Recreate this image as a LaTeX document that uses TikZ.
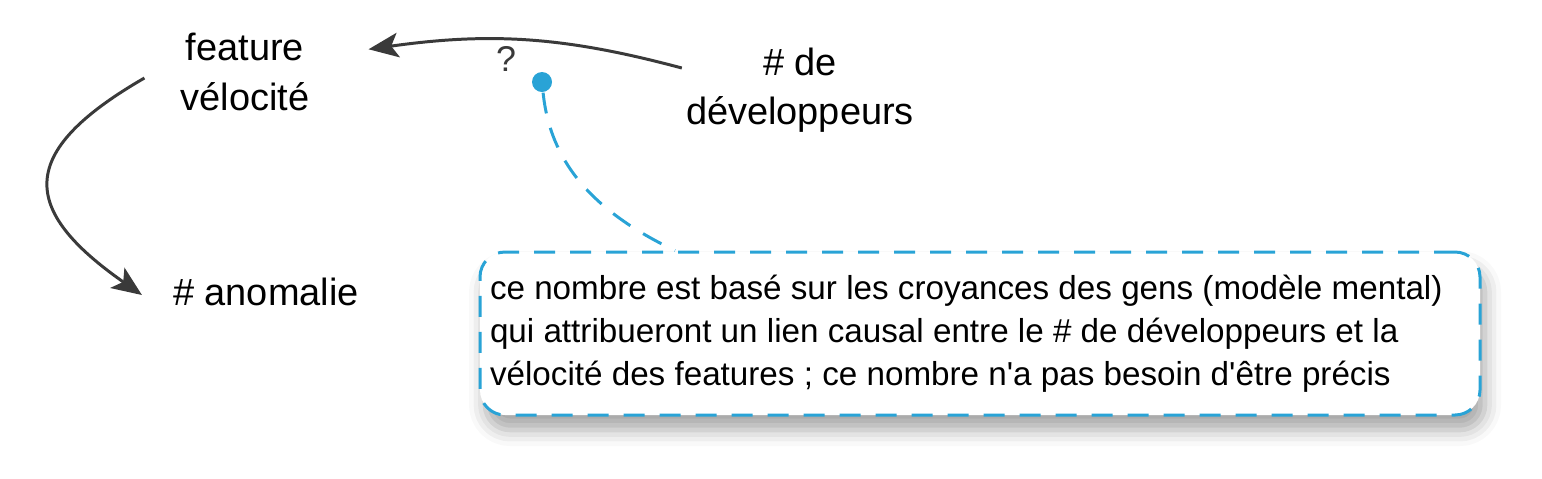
\documentclass[tikz,border=0pt]{standalone}
\usepackage{fontspec}
\setmainfont{Liberation Sans}
\usetikzlibrary{arrows.meta,shadows.blur}
\definecolor{notebl}{RGB}{41,163,214}
\definecolor{linegr}{RGB}{58,58,58}
\begin{document}
\begin{tikzpicture}[
		var/.style={align=center, inner sep=1pt, font=\fontsize{10.8}{14}\selectfont},
		link/.style={draw=linegr, line width=0.85pt, -{Stealth[length=8.5pt,width=7pt,inset=2pt]}},
		notedash/.style={draw=notebl, line width=0.85pt, dash pattern=on 2.1mm off 1.5mm},
		notebox/.style={notedash, rounded corners=2.5mm, fill=white, text width=9.8cm, inner xsep=0.1cm, minimum height=1.63cm, align=flush left, font=\fontsize{9.45}{12.2}\selectfont,
			blur shadow={shadow xshift=0.5mm, shadow yshift=-1.5mm, shadow blur radius=1.6mm, shadow opacity=35}}
	]
	\useasboundingbox (0,0) rectangle (15.42,-4.78);
	\node[var] (feat) at (2.45,-0.72) {feature\\vélocité};
	\node[var] (dev) at (8.0,-0.9) {\# de\\développeurs};
	\node[var] (anom) at (2.66,-2.92) {\# anomalie};
	\node[text=linegr, inner sep=0pt, font=\fontsize{10.2}{12}\selectfont] (q) at (5.06,-0.59) {?};
	\node[circle, fill=notebl, minimum size=2mm, inner sep=0pt] (pin) at (5.42,-0.82) {};
	\node[notebox] (note) at (9.8,-3.335) {ce nombre est basé sur les croyances des gens (modèle mental)\\qui attribueront un lien causal entre le \# de développeurs et la\\vélocité des features ; ce nombre n\textquotesingle a pas besoin d\textquotesingle être précis};
	\draw[link] ([yshift=2.2mm]dev.west) to[out=165,in=8] ([xshift=5.5mm,yshift=-2mm]feat.north east);
	\draw[link] ([xshift=-3.2mm,yshift=-0.6mm]feat.west) to[out=210,in=145,looseness=1.75] ([xshift=-2.7mm,yshift=-0.3mm]anom.west);
	\draw[notedash] (pin) .. controls (5.5,-1.6) and (5.9,-2.1) .. ([xshift=-3.05cm]note.north);
\end{tikzpicture}
\end{document}
